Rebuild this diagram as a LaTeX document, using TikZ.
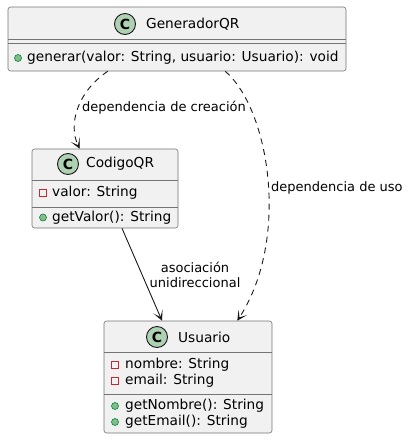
\documentclass[tikz,border=0pt]{standalone}
\usepackage{fontspec}
\setmainfont{DejaVu Sans}
\usetikzlibrary{arrows.meta}
\definecolor{boxfill}{HTML}{F1F1F1}
\definecolor{boxline}{HTML}{181818}
\definecolor{cfill}{HTML}{ADD1B2}
\definecolor{privred}{HTML}{C82930}
\definecolor{pubfill}{HTML}{84BE84}
\definecolor{publine}{HTML}{038048}
\tikzset{
  classbox/.style={draw=boxline!60, fill=boxfill, line width=0.6pt, rounded corners=2.5pt, inner sep=0, minimum width=#1},
  sepline/.style={draw=boxline!60, line width=0.6pt},
  cicon/.style={circle, draw=boxline, fill=cfill, line width=0.9pt, minimum size=21pt, inner sep=0, font=\fontsize{14pt}{14pt}\selectfont\bfseries},
  title/.style={anchor=west, inner sep=0, font=\fontsize{13.7pt}{16pt}\selectfont},
  member/.style={anchor=west, inner sep=0, font=\fontsize{13.7pt}{16pt}\selectfont},
  priv/.style={draw=privred, line width=0.8pt, minimum size=7pt, inner sep=0},
  pub/.style={circle, draw=publine, fill=pubfill, line width=0.6pt, minimum size=7pt, inner sep=0},
  elabel/.style={inner sep=0, font=\fontsize{13pt}{15pt}\selectfont, align=center},
  arr/.style={-{Stealth[length=10pt, width=10pt, inset=6pt]}, line width=0.9pt, draw=boxline},
  dep/.style={arr, dash pattern=on 6pt off 5pt},
}
\begin{document}
\begin{tikzpicture}[x=1pt, y=-1pt]
\useasboundingbox (0,0) rectangle (411,440);
% GeneradorQR
\node[classbox=338pt, minimum height=64pt] (gen) at (177,39) {};
\draw[sepline] (8,39.5) -- (346,39.5);
\draw[sepline] (8,43.5) -- (346,43.5);
\node[cicon] (genc) at (125,24) {C};
\node[title] (gent) at (146,24) {GeneradorQR};
\node[pub] (genm1i) at (18,58) {};
\node[member] (genm1) at (27,58) {generar(valor: String, usuario: Usuario): void};
% CodigoQR
\node[classbox=146pt, minimum height=79pt] (cod) at (105,188.5) {};
\draw[sepline] (32,180) -- (178,180);
\draw[sepline] (32,207) -- (178,207);
\node[cicon] (codc) at (68,164) {C};
\node[title] (codt) at (86,164) {CodigoQR};
\node[priv] (coda1i) at (43,192.5) {};
\node[member] (coda1) at (52,192.5) {valor: String};
\node[pub] (codm1i) at (43,217.5) {};
\node[member] (codm1) at (52,217.5) {getValor(): String};
% Usuario
\node[classbox=168pt, minimum height=112pt] (usu) at (188,377) {};
\draw[sepline] (104,352) -- (272,352);
\draw[sepline] (104,394) -- (272,394);
\node[cicon] (usuc) at (157,337) {C};
\node[title] (usut) at (178,337) {Usuario};
\node[priv] (usua1i) at (115,365) {};
\node[member] (usua1) at (125,365) {nombre: String};
\node[priv] (usua2i) at (115,381) {};
\node[member] (usua2) at (125,381) {email: String};
\node[pub] (usum1i) at (115,406) {};
\node[member] (usum1) at (125,406) {getNombre(): String};
\node[pub] (usum2i) at (115,422) {};
\node[member] (usum2) at (125,422) {getEmail(): String};
% connectors
\draw[dep] ([xshift=100pt]gen.south west) .. controls (77,92) and (68,125) .. ([xshift=48pt]cod.north west);
\draw[dep] ([xshift=-121pt]gen.south east) .. controls (270,110) and (290,240) .. ([xshift=-35pt]usu.north east);
\draw[arr] ([xshift=17pt]cod.south) -- ([xshift=-26pt]usu.north);
% labels
\node[elabel, anchor=west] (l1) at (82,108) {dependencia de creación};
\node[elabel, anchor=west] (l2) at (271,188) {dependencia de uso};
\node[elabel] (l3) at (195,275) {asociación\\unidireccional};
\end{tikzpicture}
\end{document}
